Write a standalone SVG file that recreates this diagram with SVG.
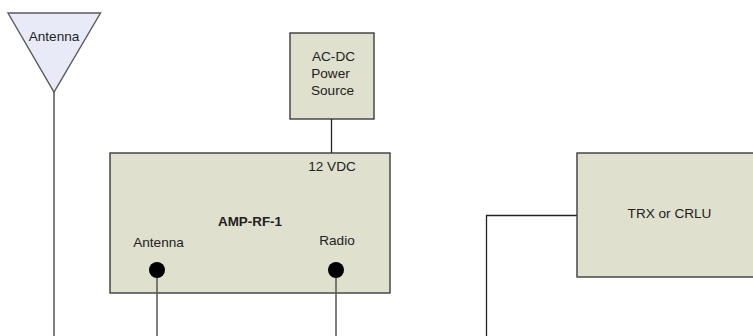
<svg xmlns="http://www.w3.org/2000/svg" width="753" height="336" viewBox="0 0 753 336">
<style>
.box{fill:#dfe0cd;stroke:#3c3c3c;stroke-width:1.4}
.ant{fill:#e8ebf7;stroke:#5a5a5a;stroke-width:1.4}
.conn{fill:none;stroke:#555;stroke-width:1.5}
.dark{stroke:#222;stroke-width:1.3}
.port{fill:#000}
text{font-family:"Liberation Sans",Arial,sans-serif;font-size:13.600px;fill:#222;text-anchor:middle}
.b{font-weight:bold;font-size:13.400px}
</style>
<rect width="753" height="336" fill="#fff"/>
<g id="antenna-symbol">
<polygon class="ant" points="8,13 100.500,13 54,92"/>
<text x="54" y="41">Antenna</text>
</g>
<g id="power-source">
<rect class="box" x="290" y="33" width="84" height="86"/>
<text x="333.500" y="61">AC-DC</text>
<text x="330.500" y="77.500">Power</text>
<text x="332.500" y="94.500">Source</text>
</g>
<g id="amp-rf-1">
<rect class="box" x="110" y="153" width="280" height="140"/>
<text x="332" y="171">12 VDC</text>
<text class="b" x="250" y="226">AMP-RF-1</text>
<text x="158.500" y="247">Antenna</text>
<text x="337" y="244.500">Radio</text>
</g>
<g id="connectors">
<path class="conn" d="M54 92V336"/>
<path class="conn" d="M157 276V336"/>
<path class="conn" d="M336 276V336"/>
<path class="conn dark" d="M331.500 119V153"/>
<path class="conn dark" d="M577 215.500H486.500V336"/>
</g>
<g id="ports">
<circle class="port" cx="157" cy="270" r="8"/>
<circle class="port" cx="336" cy="270" r="8"/>
</g>
<g id="trx-crlu">
<rect class="box" x="577" y="153" width="180" height="124"/>
<text x="669.500" y="217.500">TRX or CRLU</text>
</g>
</svg>
